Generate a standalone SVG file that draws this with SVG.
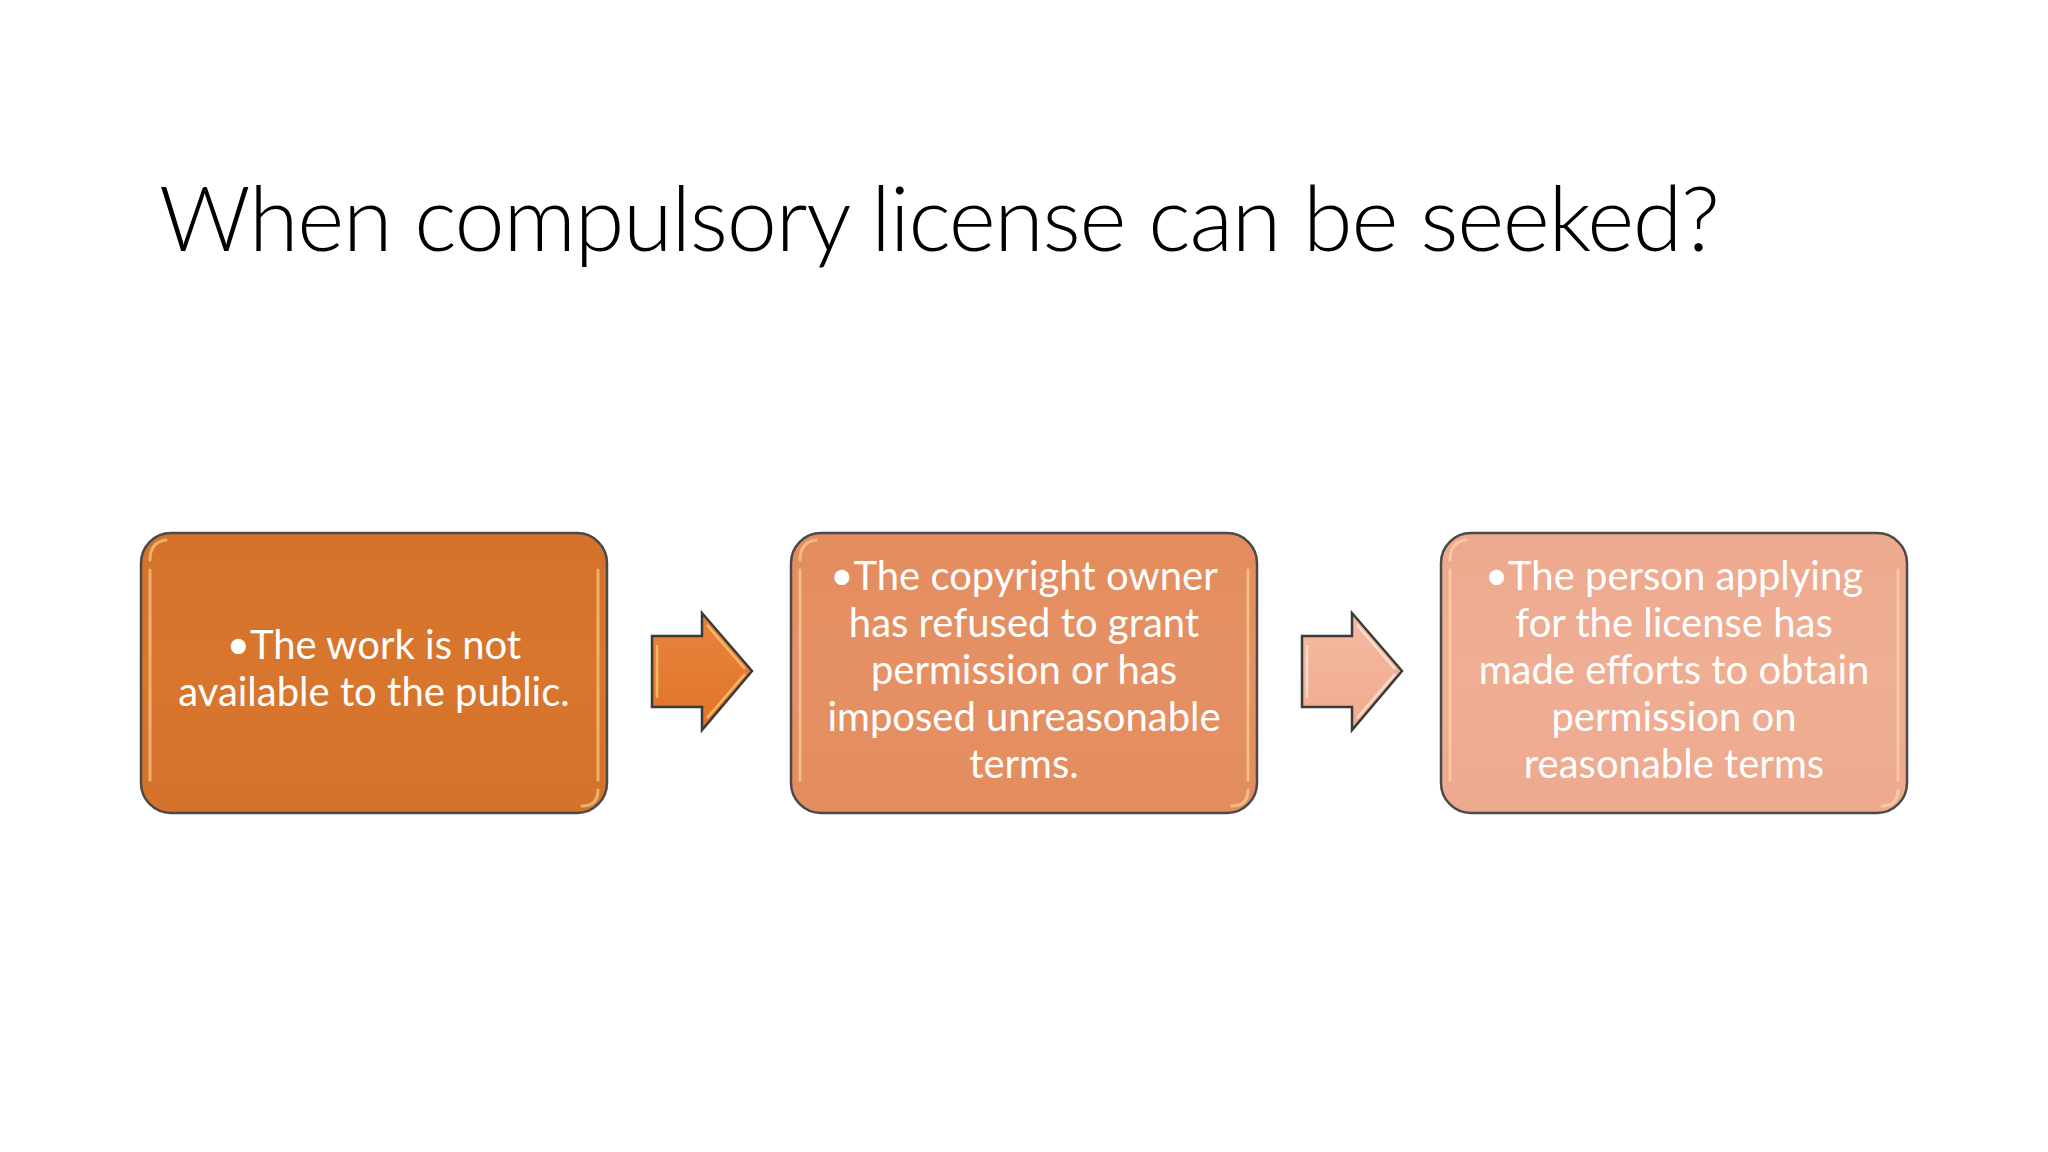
<svg xmlns="http://www.w3.org/2000/svg" width="2048" height="1152" viewBox="0 0 2048 1152">
<defs>
<style>
.title{font-family:Lato,"Open Sans","Liberation Sans",sans-serif;font-weight:300;font-size:90px;fill:#000}
.body{font-family:Lato,"Open Sans","Liberation Sans",sans-serif;font-size:40px;fill:#fff;text-anchor:middle}
.box{stroke:#4a4a4a;stroke-width:2.5}
.hl{fill:none;stroke:#ffe3a8;stroke-width:3;stroke-linecap:round;opacity:0.55}
.arrow{stroke:#3a3a3a;stroke-width:2.5;stroke-linejoin:miter}
</style>
<linearGradient id="g1" x1="0" y1="0" x2="0" y2="1">
<stop offset="0" stop-color="#d4712a"/><stop offset="0.5" stop-color="#d8762e"/><stop offset="1" stop-color="#d4712a"/>
</linearGradient>
<linearGradient id="g2" x1="0" y1="0" x2="0" y2="1">
<stop offset="0" stop-color="#e38c5e"/><stop offset="0.5" stop-color="#e59165"/><stop offset="1" stop-color="#e38c5e"/>
</linearGradient>
<linearGradient id="g3" x1="0" y1="0" x2="0" y2="1">
<stop offset="0" stop-color="#eda98e"/><stop offset="0.5" stop-color="#efae94"/><stop offset="1" stop-color="#eda98e"/>
</linearGradient>
<linearGradient id="ga1" x1="0" y1="0" x2="0" y2="1">
<stop offset="0" stop-color="#e8843f"/><stop offset="1" stop-color="#e07428"/>
</linearGradient>
<linearGradient id="ga2" x1="0" y1="0" x2="0" y2="1">
<stop offset="0" stop-color="#f5b9a0"/><stop offset="1" stop-color="#f0ab90"/>
</linearGradient>
</defs>
<rect width="2048" height="1152" fill="#fff"/>
<text class="title" x="159" y="251" textLength="1561">When compulsory license can be seeked?</text>

<g id="node1">
<rect class="box" x="141" y="533" width="466" height="280" rx="30" fill="url(#g1)"/>
<path class="hl" d="M150 570 L150 780 M598 570 L598 780"/>
<path class="hl" d="M150 560 Q150 542 166 540 M598 790 Q598 806 582 806" opacity="0.35"/>
<text class="body" x="374" y="659">•The work is not</text>
<text class="body" x="374" y="706">available to the public.</text>
</g>

<g id="node2">
<rect class="box" x="791" y="533" width="466" height="280" rx="30" fill="url(#g2)"/>
<path class="hl" d="M800 570 L800 780 M1248 570 L1248 780"/>
<path class="hl" d="M800 560 Q800 542 816 540 M1248 790 Q1248 806 1232 806" opacity="0.35"/>
<text class="body" x="1024" y="590">•The copyright owner</text>
<text class="body" x="1024" y="637">has refused to grant</text>
<text class="body" x="1024" y="684">permission or has</text>
<text class="body" x="1024" y="731">imposed unreasonable</text>
<text class="body" x="1024" y="778">terms.</text>
</g>

<g id="node3">
<rect class="box" x="1441" y="533" width="466" height="280" rx="30" fill="url(#g3)"/>
<path class="hl" d="M1450 570 L1450 780 M1898 570 L1898 780"/>
<path class="hl" d="M1450 560 Q1450 542 1466 540 M1898 790 Q1898 806 1882 806" opacity="0.35"/>
<text class="body" x="1674" y="590">•The person applying</text>
<text class="body" x="1674" y="637">for the license has</text>
<text class="body" x="1674" y="684">made efforts to obtain</text>
<text class="body" x="1674" y="731">permission on</text>
<text class="body" x="1674" y="778">reasonable terms</text>
</g>

<g id="connectors">
<g id="arrow1">
<path class="arrow" d="M652 636 L702 636 L702 613 L752 671 L702 730 L702 707 L652 707 Z" fill="url(#ga1)"/>
<path d="M657 645 L657 698 M707 625 L745 669 M707 718 L745 674" fill="none" stroke="#ffd27a" stroke-width="2.5" opacity="0.7"/>
</g>
<g id="arrow2">
<path class="arrow" d="M1302 636 L1352 636 L1352 613 L1402 671 L1352 730 L1352 707 L1302 707 Z" fill="url(#ga2)"/>
<path d="M1307 645 L1307 698 M1357 625 L1395 669 M1357 718 L1395 674" fill="none" stroke="#fff0e0" stroke-width="2.5" opacity="0.7"/>
</g>
</g>
</svg>
